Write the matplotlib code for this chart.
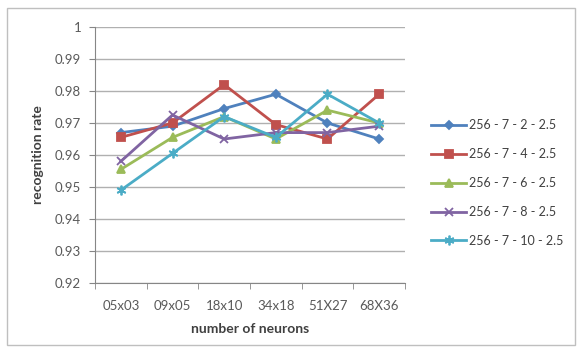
import matplotlib
matplotlib.use("Agg")
import matplotlib.pyplot as plt
from matplotlib.patches import Rectangle

categories = ["05x03", "09x05", "18x10", "34x18", "51X27", "68X36"]
series_names = ["256 - 7 - 2 - 2.5", "256 - 7 - 4 - 2.5", "256 - 7 - 6 - 2.5",
                "256 - 7 - 8 - 2.5", "256 - 7 - 10 - 2.5"]
s_2 = [0.967, 0.969, 0.9745, 0.979, 0.970, 0.965]
s_4 = [0.9655, 0.970, 0.982, 0.9695, 0.965, 0.979]
s_6 = [0.9555, 0.9655, 0.972, 0.965, 0.974, 0.970]
s_8 = [0.958, 0.9725, 0.965, 0.967, 0.967, 0.969]
s_10 = [0.949, 0.9605, 0.972, 0.9655, 0.979, 0.970]
y_ticks = [0.92, 0.93, 0.94, 0.95, 0.96, 0.97, 0.98, 0.99, 1.0]
y_tick_labels = ["0.92", "0.93", "0.94", "0.95", "0.96", "0.97", "0.98", "0.99", "1"]

plt.rcParams["font.family"] = ["Lato", "DejaVu Sans"]

colors = ["#4F81BD", "#C0504D", "#9BBB59", "#8064A2", "#4BACC6"]
markers = ["D", "s", "^", "x", (6, 2, 0)]
msizes = [4.5, 6, 6, 6, 7]

fig = plt.figure(figsize=(5.81, 3.54), dpi=100)
fig.patches.append(Rectangle((7 / 581, 9 / 354), 568 / 581, 337 / 354,
                             transform=fig.transFigure, fill=False,
                             edgecolor="#BFBFBF", linewidth=1.0))

ax = fig.add_axes([95 / 581, 1 - 283 / 354, 310 / 581, 256 / 354])
x = list(range(len(categories)))
for vals, name, c, m, ms in zip([s_2, s_4, s_6, s_8, s_10], series_names,
                                colors, markers, msizes):
    ax.plot(x, vals, color=c, marker=m, markersize=ms, linewidth=2,
            markeredgewidth=1.3, label=name)

ax.set_xlim(-0.5, len(categories) - 0.5)
ax.set_ylim(0.92, 1.0)
ax.set_yticks(y_ticks)
ax.set_yticklabels(y_tick_labels)
ax.set_xticks(x)
ax.set_xticklabels(categories)
ax.set_xticks([i - 0.5 for i in range(len(categories) + 1)], minor=True)
ax.tick_params(axis="x", which="major", length=0, pad=12, labelsize=9.5,
               labelcolor="#595959")
ax.tick_params(axis="x", which="minor", length=4, color="#868686")
ax.tick_params(axis="y", length=4, color="#868686", labelsize=9.5,
               labelcolor="#595959", pad=6)
ax.grid(axis="y", color="#B0B0B0", linewidth=1)
ax.set_axisbelow(True)
for side in ["top", "right"]:
    ax.spines[side].set_visible(False)
for side in ["left", "bottom"]:
    ax.spines[side].set_color("#868686")

ax.set_xlabel("number of neurons", fontsize=10, fontweight="bold",
              color="#404040", labelpad=8)
ax.set_ylabel("recognition rate", fontsize=10, fontweight="bold",
              color="#404040", labelpad=8)

fig.legend(loc="upper left", bbox_to_anchor=(420 / 581, 1 - 108 / 354),
           frameon=False, fontsize=9, labelcolor="#404040",
           handlelength=2.8, handletextpad=0.2, labelspacing=1.35)

fig.savefig("out.png", dpi=100)
